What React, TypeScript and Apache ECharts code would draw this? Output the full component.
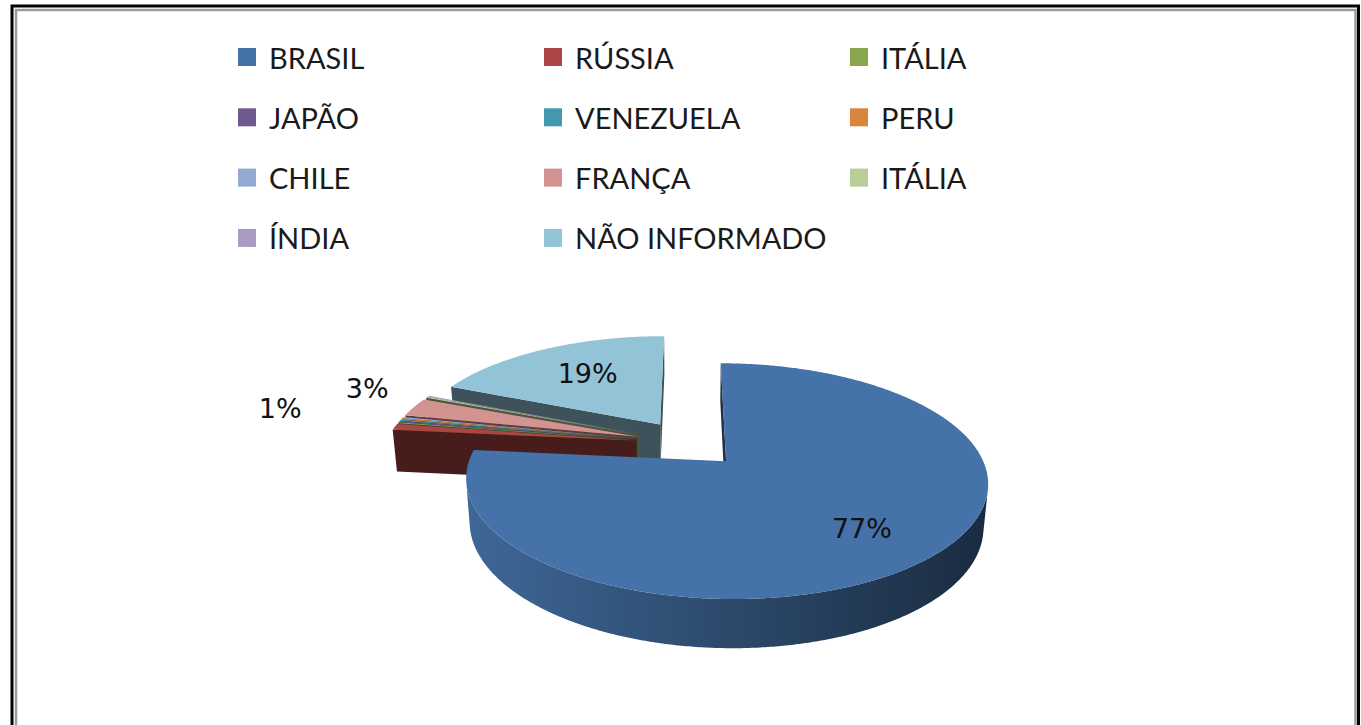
import React, { useEffect, useRef } from "react";
import * as echarts from "echarts";

// ---- data ----
const categories = [
  "BRASIL",
  "RÚSSIA",
  "ITÁLIA",
  "JAPÃO",
  "VENEZUELA",
  "PERU",
  "CHILE",
  "FRANÇA",
  "ITÁLIA ",
  "ÍNDIA",
  "NÃO INFORMADO",
];
const values = [76.6, 0.9, 0.17, 0.17, 0.17, 0.17, 0.17, 2.7, 0.17, 0.17, 18.6];
const colors = [
  "#4572A8",
  "#AA4643",
  "#89A54E",
  "#71588F",
  "#4198AF",
  "#DB843D",
  "#93A9CF",
  "#D39391",
  "#B9CD96",
  "#A99BC3",
  "#92C3D6",
];

// ---- 3D projection layout ----
const CX = 689;
const CY = 443.5;
const F = 1375;
const D = 5.49;
const ALPHA = (25.7 * Math.PI) / 180;
const SA = Math.sin(ALPHA);
const CA = Math.cos(ALPHA);
const T = 0.19;
const EXPLODE = 0.215;
const LABEL_FONT = 27;

function proj(u: number, v: number, z: number): number[] {
  const w = D + v * CA - z * SA;
  return [CX + (F * u) / w, CY - (F * (v * SA + z * CA)) / w];
}

function shade(hex: string, f: number): string {
  const n = parseInt(hex.slice(1), 16);
  const r = Math.min(255, Math.round(((n >> 16) & 255) * f));
  const g = Math.min(255, Math.round(((n >> 8) & 255) * f));
  const b = Math.min(255, Math.round((n & 255) * f));
  return `rgb(${r},${g},${b})`;
}

type Slice = {
  idx: number;
  name: string;
  color: string;
  s: number;
  e: number;
  m: number;
  pct: number;
  uO: number;
  vO: number;
  label?: { x: number; y: number; text: string };
};

const total = values.reduce((a, b) => a + b, 0);
let acc = 0;
const slices: Slice[] = values.map((v, i) => {
  const s = (acc / total) * Math.PI * 2;
  acc += v;
  const e = (acc / total) * Math.PI * 2;
  const m = (s + e) / 2;
  return {
    idx: i,
    name: categories[i],
    color: colors[i],
    s,
    e,
    m,
    pct: Math.round((v / total) * 100),
    uO: EXPLODE * Math.sin(m),
    vO: EXPLODE * Math.cos(m),
  };
});

// label placement
function textW(t: string) {
  let w = 0;
  for (const ch of t) w += ch === "%" ? 0.95 : 0.636;
  return w * LABEL_FONT;
}
const placed: { x: number; y: number; w: number; h: number }[] = [];
for (const sl of slices) {
  if (sl.pct >= 10) {
    const r = sl.pct > 50 ? 0.7 : 0.6;
    const p = proj(sl.uO + r * Math.sin(sl.m), sl.vO + r * Math.cos(sl.m), 0);
    sl.label = { x: p[0], y: p[1] + (sl.pct > 50 ? 2 : -4), text: sl.pct + "%" };
  }
}
for (let i = slices.length - 1; i >= 0; i--) {
  const sl = slices[i];
  if (sl.pct >= 1 && sl.pct < 10) {
    const text = sl.pct + "%";
    const w = textW(text) + 40;
    const h = LABEL_FONT + 2;
    let r = 1.22;
    let p = [0, 0];
    for (let k = 0; k < 40; k++) {
      p = proj(sl.uO + r * Math.sin(sl.m), sl.vO + r * Math.cos(sl.m), 0);
      p[1] -= 12;
      const hit = placed.some(
        (b) => Math.abs(b.x - p[0]) < (b.w + w) / 2 && Math.abs(b.y - p[1]) < (b.h + h) / 2
      );
      if (!hit) break;
      r += 0.03;
    }
    placed.push({ x: p[0], y: p[1], w, h });
    sl.label = { x: p[0], y: p[1], text };
  }
}

function renderSlice(sl: Slice) {
  const { uO, vO } = sl;
  const ex = vO + D * CA;
  const children: any[] = [];
  const faceColor = shade(sl.color, 0.42);
  const radial = (th: number) => {
    const u = uO + Math.sin(th);
    const v = vO + Math.cos(th);
    return {
      type: "polygon",
      shape: { points: [proj(uO, vO, 0), proj(u, v, 0), proj(u, v, -T), proj(uO, vO, -T)] },
      style: { fill: faceColor },
    };
  };
  if (-Math.cos(sl.s) * uO + Math.sin(sl.s) * ex < 0) children.push(radial(sl.s));
  if (Math.cos(sl.e) * uO - Math.sin(sl.e) * ex < 0) children.push(radial(sl.e));

  const n = Math.max(2, Math.ceil((sl.e - sl.s) / ((0.5 * Math.PI) / 180)));
  const ths: number[] = [];
  for (let k = 0; k <= n; k++) ths.push(sl.s + ((sl.e - sl.s) * k) / n);

  // outer wall
  const runs: number[][] = [];
  let run: number[] = [];
  for (const th of ths) {
    const vis = Math.sin(th) * uO + Math.cos(th) * ex < -1;
    if (vis) run.push(th);
    else if (run.length) {
      runs.push(run);
      run = [];
    }
  }
  if (run.length) runs.push(run);
  for (const r of runs) {
    if (r.length < 2) continue;
    const top = r.map((th) => proj(uO + Math.sin(th), vO + Math.cos(th), 0));
    const bot = r.map((th) => proj(uO + Math.sin(th), vO + Math.cos(th), -T)).reverse();
    children.push({
      type: "polygon",
      shape: { points: top.concat(bot) },
      style: {
        fill: new echarts.graphic.LinearGradient(
          CX - 220,
          0,
          CX + 300,
          0,
          [
            { offset: 0, color: shade(sl.color, 0.9) },
            { offset: 1, color: shade(sl.color, 0.38) },
          ],
          true
        ),
      },
    });
  }

  // top face
  const pts = [proj(uO, vO, 0)];
  for (const th of ths) pts.push(proj(uO + Math.sin(th), vO + Math.cos(th), 0));
  children.push({ type: "polygon", shape: { points: pts }, style: { fill: sl.color } });

  if (sl.label) {
    children.push({
      type: "text",
      style: {
        text: sl.label.text,
        x: sl.label.x,
        y: sl.label.y,
        fill: "#111",
        fontSize: LABEL_FONT,
        fontFamily: "DejaVu Sans",
        align: "center",
        verticalAlign: "middle",
      },
    });
  }
  return { type: "group", children };
}

// draw back-to-front
const drawOrder = [...slices].sort((a, b) => b.vO - a.vO);

const legendLefts = [233, 539, 845];

const option: any = {
  animation: false,
  backgroundColor: "#fff",
  legend: legendLefts.map((left, col) => ({
    orient: "vertical",
    left,
    top: 37,
    data: categories.filter((_, i) => i % 3 === col),
    icon: "rect",
    itemWidth: 18,
    itemHeight: 18,
    itemGap: 30.3,
    selectedMode: false,
    formatter: (nm: string) => nm.trim(),
    textStyle: {
      fontFamily: "Lato",
      fontSize: 29,
      lineHeight: 30,
      color: "#1a1a1a",
      padding: [0, 0, 0, 8],
    },
  })),
  graphic: {
    elements: [
      {
        type: "rect",
        silent: true,
        shape: { x: 12, y: 6, width: 1346.5, height: 1000 },
        style: { fill: "none", stroke: "#000", lineWidth: 3 },
      },
      {
        type: "rect",
        silent: true,
        shape: { x: 16, y: 10, width: 1339.5, height: 1000 },
        style: { fill: "none", stroke: "#9a9a9a", lineWidth: 2.5 },
      },
    ],
  },
  series: drawOrder.map((sl) => ({
    type: "custom",
    name: sl.name,
    coordinateSystem: "none",
    silent: true,
    itemStyle: { color: sl.color },
    data: [[sl.idx]],
    renderItem: () => renderSlice(sl),
  })),
};

export default function App() {
  const ref = useRef<HTMLDivElement>(null);
  useEffect(() => {
    if (!ref.current) return;
    const chart = echarts.init(ref.current, null, { renderer: "svg" });
    chart.setOption(option);
    return () => chart.dispose();
  }, []);
  return (
    <div
      ref={ref}
      style={{ position: "fixed", left: 0, top: 0, width: 1361, height: 725, background: "#fff" }}
    />
  );
}
